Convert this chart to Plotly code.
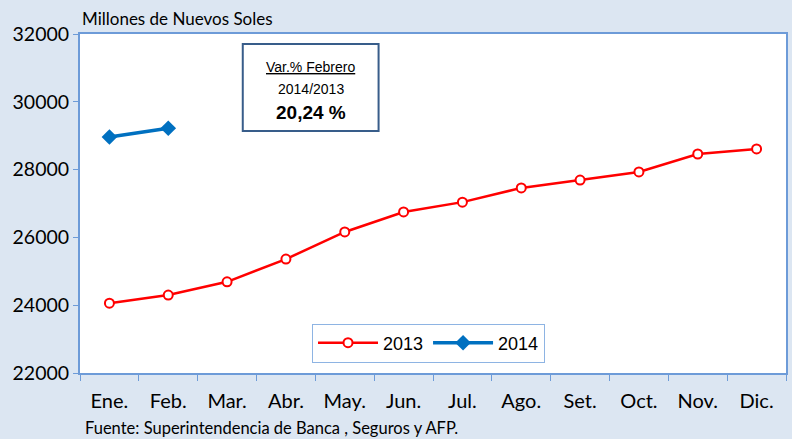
import plotly.graph_objects as go

meses = ["Ene.", "Feb.", "Mar.", "Abr.", "May.", "Jun.", "Jul.", "Ago.", "Set.", "Oct.", "Nov.", "Dic."]
valores_2013 = [24060, 24300, 24690, 25360, 26160, 26750, 27040, 27460, 27690, 27930, 28460, 28610]
valores_2014 = [28960, 29220]

fig = go.Figure()

fig.add_trace(go.Scatter(
    x=meses, y=valores_2013,
    mode="lines+markers",
    name="2013",
    line=dict(color="#ff0000", width=2.5),
    marker=dict(symbol="circle", size=9, color="white", line=dict(color="#ff0000", width=2)),
))

fig.add_trace(go.Scatter(
    x=meses[:len(valores_2014)], y=valores_2014,
    mode="lines+markers",
    name="2014",
    line=dict(color="#0070c0", width=3.5),
    marker=dict(symbol="diamond", size=12, color="#0070c0"),
))

# caja de variación
fig.add_shape(type="rect", xref="paper", yref="paper",
              x0=(243 - 80) / 707, x1=(379 - 80) / 707,
              y0=(373 - 131) / 339, y1=(373 - 44) / 339,
              line=dict(color="#385d8a", width=2), fillcolor="white")

cx = (311 - 80) / 707
fig.add_annotation(xref="paper", yref="paper", x=cx, y=(373 - 67) / 339,
                   xanchor="center", yanchor="middle",
                   text="<u>Var.% Febrero</u>", showarrow=False,
                   font=dict(family="Liberation Sans, Arial", size=14, color="black"))
fig.add_annotation(xref="paper", yref="paper", x=cx, y=(373 - 89) / 339,
                   xanchor="center", yanchor="middle",
                   text="2014/2013", showarrow=False,
                   font=dict(family="Liberation Sans, Arial", size=14, color="black"))
fig.add_annotation(xref="paper", yref="paper", x=cx, y=(373 - 113) / 339,
                   xanchor="center", yanchor="middle",
                   text="<b>20,24 %</b>", showarrow=False,
                   font=dict(family="Liberation Sans, Arial", size=19, color="black"))

fig.add_annotation(xref="paper", yref="paper", x=0, y=1, yanchor="bottom", xanchor="left",
                   yshift=3,
                   text="Millones de Nuevos Soles", showarrow=False,
                   font=dict(family="Lato", size=17, color="black"))
fig.add_annotation(xref="paper", yref="paper", x=(83 - 80) / 707, y=(373 - 428) / 339,
                   xanchor="left", yanchor="middle",
                   text="Fuente: Superintendencia de Banca , Seguros y AFP.", showarrow=False,
                   font=dict(family="Lato", size=16.5, color="black"))

fig.update_layout(
    width=792, height=439,
    margin=dict(l=80, r=4, t=34, b=66),
    paper_bgcolor="#dce6f2",
    plot_bgcolor="white",
    font=dict(family="Lato", color="black"),
    showlegend=True,
    legend=dict(
        orientation="h",
        x=(429 - 80) / 707, xanchor="center",
        y=(373 - 343) / 339, yanchor="middle",
        bgcolor="white",
        bordercolor="#8eb4e3", borderwidth=1,
        font=dict(family="Liberation Sans, Arial", size=18, color="black"),
        itemwidth=60,
    ),
    xaxis=dict(
        type="category",
        showline=True, linecolor="#6d9bd8", linewidth=2, mirror=True,
        ticks="outside", tickson="boundaries", ticklen=6, tickcolor="#6d9bd8",
        tickfont=dict(family="Lato", size=20, color="black"),
        ticklabelstandoff=9,
        showgrid=False,
        range=[-0.5, 11.5],
    ),
    yaxis=dict(
        range=[22000, 32000], dtick=2000,
        showline=True, linecolor="#6d9bd8", linewidth=2, mirror=True,
        ticks="outside", ticklen=5, tickcolor="#6d9bd8",
        tickfont=dict(family="Lato", size=19.5, color="black"),
        showgrid=False, zeroline=False,
        tickformat="d",
    ),
)

fig.write_html("out.html", config={"displayModeBar": False},
               post_script="document.body.style.margin='0';")
